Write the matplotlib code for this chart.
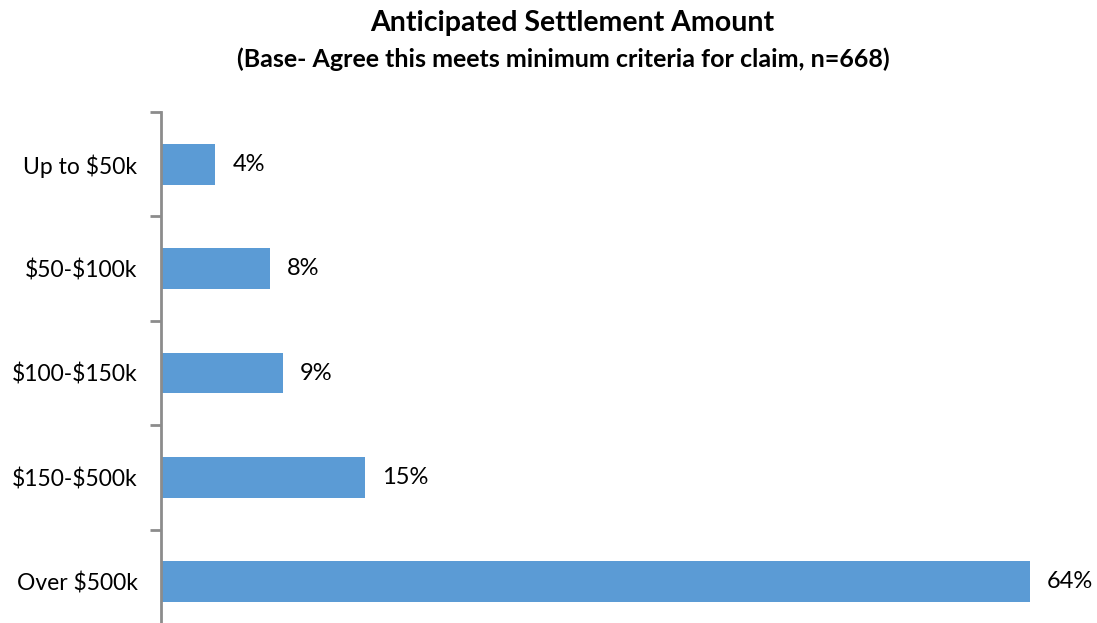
import numpy as np
import matplotlib.pyplot as plt

plt.rcParams['font.family'] = ['Lato', 'DejaVu Sans']
plt.rcParams['text.parse_math'] = False

categories = ['Up to $50k', '$50-$100k', '$100-$150k', '$150-$500k', 'Over $500k']
values = [4, 8, 9, 15, 64]
value_labels = ['4%', '8%', '9%', '15%', '64%']

W, H = 1097, 623
fig = plt.figure(figsize=(W / 100, H / 100), dpi=100)

# axes box in pixels: left edge at the spine, bottom runs slightly past the image
left, top, bottom = 161, 112, 634
px_per_pct = 13.58
xmax = 68
ax = fig.add_axes([left / W, 1 - bottom / H, xmax * px_per_pct / W, (bottom - top) / H])

y = np.arange(len(categories))
ax.barh(y, values, height=0.39, color='#5B9BD5')
ax.set_ylim(len(categories) - 0.5, -0.5)
ax.set_xlim(0, xmax)

for yi, v, lab in zip(y, values, value_labels):
    ax.annotate(lab, (v, yi), xytext=(17, 0), textcoords='offset pixels',
                ha='left', va='center', fontsize=17, color='black')

ax.set_yticks(y)
ax.set_yticklabels(categories, fontsize=16.5)
ax.tick_params(axis='y', which='major', length=0, pad=17)
ax.set_yticks(np.arange(-0.5, len(categories) + 0.5, 1), minor=True)
ax.tick_params(axis='y', which='minor', length=8, width=2, color='#8C8C8C')
ax.set_xticks([])

for s in ['top', 'right', 'bottom']:
    ax.spines[s].set_visible(False)
ax.spines['left'].set_color('#8C8C8C')
ax.spines['left'].set_linewidth(2)

fig.text(572 / W, 1 - 23 / H, 'Anticipated Settlement Amount', ha='center', va='center',
         fontsize=20.5, fontweight='bold')
fig.text(563 / W, 1 - 59 / H, '(Base- Agree this meets minimum criteria for claim, n=668)',
         ha='center', va='center', fontsize=18, fontweight='bold')

fig.savefig('out.png', dpi=100)
